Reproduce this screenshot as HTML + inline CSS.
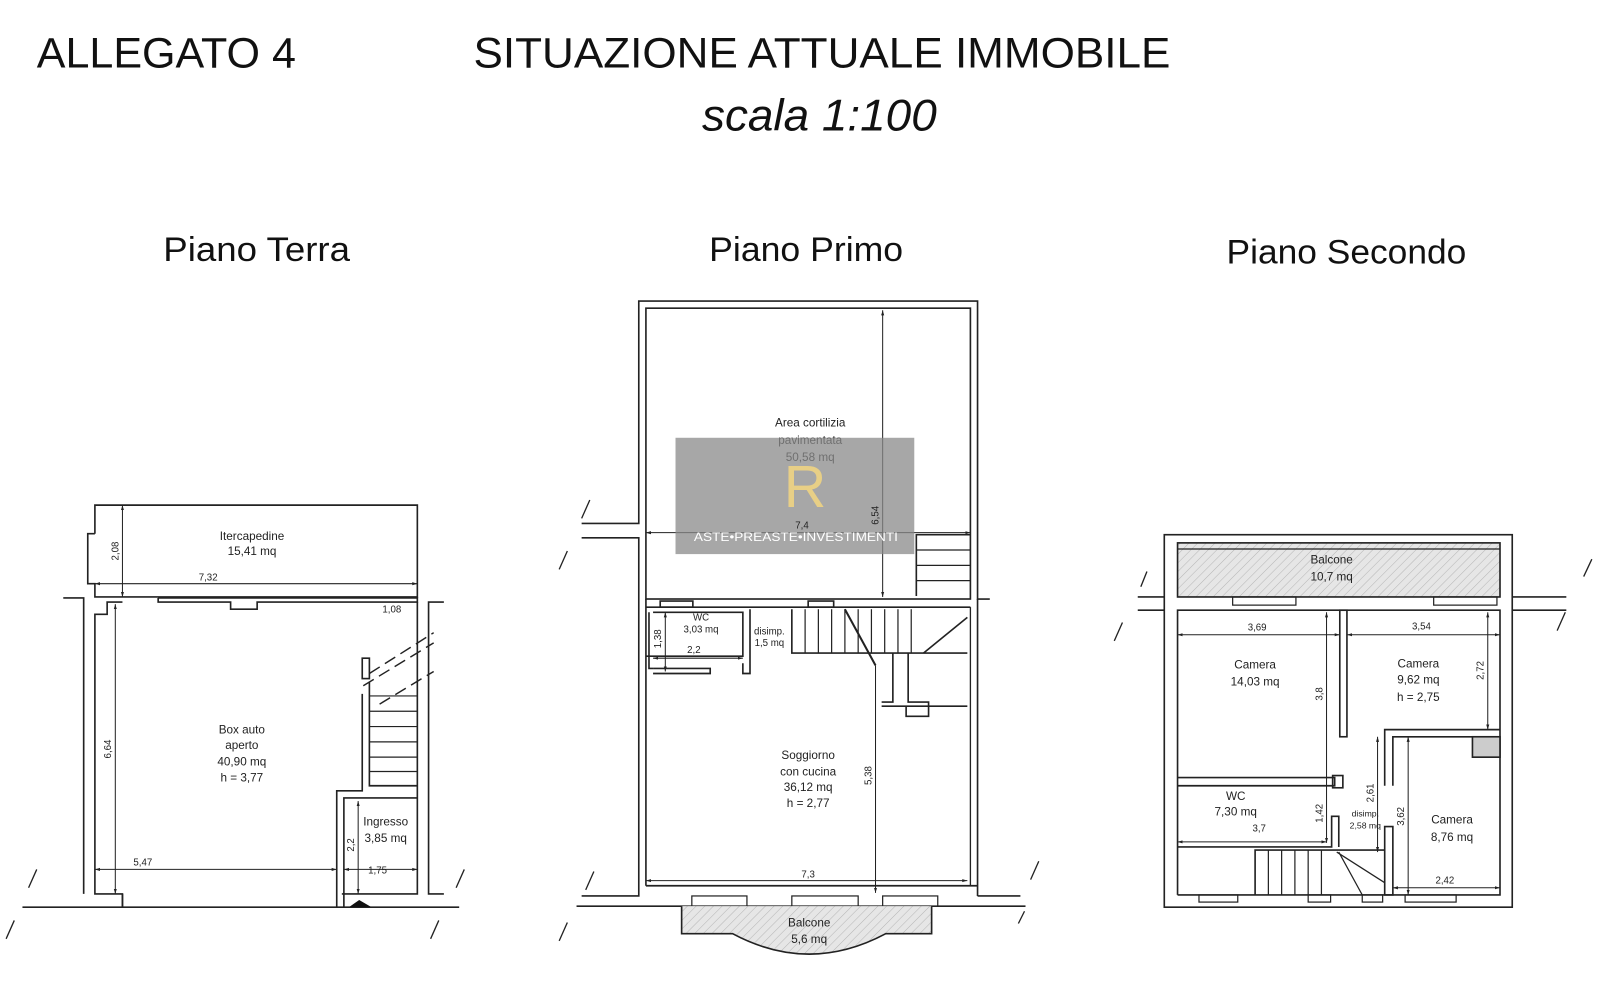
<!DOCTYPE html>
<html><head><meta charset="utf-8"><style>
html,body{margin:0;padding:0;background:#fff;}
svg{display:block;}
text{font-family:"Liberation Sans","DejaVu Sans",sans-serif;fill:#222;}
.s{font-size:11.5px;text-anchor:middle;}
.d{font-size:9.5px;text-anchor:middle;}
</style></head><body>
<svg width="1600" height="998" viewBox="0 0 1568 978" preserveAspectRatio="none" xmlns="http://www.w3.org/2000/svg">
<defs>
<pattern id="h" width="6" height="6" patternUnits="userSpaceOnUse" patternTransform="rotate(45)">
<rect width="6" height="6" fill="#e6e6e6"/><line x1="0" y1="0" x2="0" y2="6" stroke="#b5b5b5" stroke-width="1"/></pattern>
<marker id="a" viewBox="0 0 10 10" refX="10" refY="5" markerWidth="5" markerHeight="5" orient="auto-start-reverse"><path d="M0,2L10,5L0,8z" fill="#222"/></marker>
</defs>
<rect width="1568" height="978" fill="#fff"/>
<text x="36" y="66" font-size="42" textLength="254" lengthAdjust="spacingAndGlyphs" style="fill:#111">ALLEGATO 4</text>
<text x="464" y="66" font-size="42" textLength="683" lengthAdjust="spacingAndGlyphs" style="fill:#111">SITUAZIONE ATTUALE IMMOBILE</text>
<text x="688" y="128" font-size="44" font-style="italic" textLength="230" lengthAdjust="spacingAndGlyphs" style="fill:#111">scala 1:100</text>
<text x="160" y="256" font-size="34" textLength="183" lengthAdjust="spacingAndGlyphs" style="fill:#111">Piano Terra</text>
<text x="695" y="256" font-size="34" textLength="190" lengthAdjust="spacingAndGlyphs" style="fill:#111">Piano Primo</text>
<text x="1202" y="258" font-size="34" textLength="235" lengthAdjust="spacingAndGlyphs" style="fill:#111">Piano Secondo</text>

<g fill="none" stroke="#222" stroke-width="1.6">
<!-- PIANO TERRA -->
<polyline points="93,523 93,495 409,495 409,585 93,585 93,572 86,572 86,523 93,523"/>
<line x1="93" y1="572" x2="409" y2="572" stroke-width="1" marker-start="url(#a)" marker-end="url(#a)"/>
<line x1="120" y1="495" x2="120" y2="585" stroke-width="1" marker-start="url(#a)" marker-end="url(#a)"/>
<polyline points="155,586 409,586 409,590 252,590 252,597 226,597 226,590 155,590 155,586"/>
<polyline points="62,586 82,586 82,876"/>
<polyline points="120,590 105,590 105,602 93,602 93,876 120,876 120,889"/>
<line x1="113" y1="592" x2="113" y2="876" stroke-width="1" marker-start="url(#a)" marker-end="url(#a)"/>
<line x1="93" y1="852" x2="330" y2="852" stroke-width="1" marker-start="url(#a)" marker-end="url(#a)"/>
<polyline points="409,590 409,876 335,876"/>
<polyline points="435,590 420,590 420,876 435,876"/>
<polyline points="362,668 362,770 409,770"/>
<g stroke-width="1.2"><line x1="362" y1="682" x2="409" y2="682"/><line x1="362" y1="697" x2="409" y2="697"/><line x1="362" y1="712" x2="409" y2="712"/><line x1="362" y1="727" x2="409" y2="727"/><line x1="362" y1="742" x2="409" y2="742"/><line x1="362" y1="756" x2="409" y2="756"/></g>
<polyline points="355,680 355,775 330,775 330,889"/>
<polyline points="337,889 337,782 409,782"/>
<rect x="355" y="645" width="7" height="20"/>
<g stroke-dasharray="12,6" stroke-width="1.4"><line x1="356" y1="672" x2="425" y2="630"/><line x1="362" y1="660" x2="425" y2="620"/><line x1="372" y1="690" x2="425" y2="658"/></g>
<line x1="351" y1="785" x2="351" y2="876" stroke-width="1" marker-start="url(#a)" marker-end="url(#a)"/>
<line x1="337" y1="852" x2="409" y2="852" stroke-width="1" marker-start="url(#a)" marker-end="url(#a)"/>
<line x1="22" y1="889" x2="450" y2="889"/>
<line x1="120" y1="876" x2="120" y2="889"/>
<g stroke-width="1.3"><line x1="28" y1="870" x2="36" y2="852"/><line x1="6" y1="920" x2="14" y2="902"/><line x1="447" y1="870" x2="455" y2="852"/><line x1="422" y1="920" x2="430" y2="902"/></g>

<!-- PIANO PRIMO -->
<polyline points="570,513 626,513 626,295 958,295 958,587 970,587"/>
<polyline points="570,527 626,527 626,878 570,878"/>
<rect x="633" y="302" width="318" height="285"/>
<line x1="633" y1="595" x2="951" y2="595"/>
<line x1="633" y1="587" x2="633" y2="868"/>
<line x1="951" y1="595" x2="951" y2="868" stroke-width="1.3"/>
<line x1="958" y1="587" x2="958" y2="878"/>
<line x1="958" y1="878" x2="1000" y2="878"/>
<line x1="633" y1="522" x2="951" y2="522" stroke-width="1" marker-start="url(#a)" marker-end="url(#a)"/>
<line x1="865" y1="304" x2="865" y2="585" stroke-width="1" marker-start="url(#a)" marker-end="url(#a)"/>
<polyline points="898,584 898,524 951,524"/>
<g stroke-width="1.2"><line x1="898" y1="539" x2="951" y2="539"/><line x1="898" y1="554" x2="951" y2="554"/><line x1="898" y1="569" x2="951" y2="569"/></g>
<rect x="647" y="589" width="32" height="6"/><rect x="792" y="589" width="25" height="6"/>
<polyline points="636,600 636,655 640,655"/>
<polyline points="640,600 728,600 728,643 633,643"/>
<polyline points="640,660 696,660 696,655 640,655"/>
<line x1="652" y1="600" x2="652" y2="658" stroke-width="1" marker-start="url(#a)" marker-end="url(#a)"/>
<line x1="640" y1="645" x2="728" y2="645" stroke-width="1" marker-start="url(#a)" marker-end="url(#a)"/>
<polyline points="735,597 735,660 728,660 728,650"/>
<polyline points="776,597 776,640 948,640"/>
<g stroke-width="1.2"><line x1="789" y1="597" x2="789" y2="640"/><line x1="802" y1="597" x2="802" y2="640"/><line x1="815" y1="597" x2="815" y2="640"/><line x1="828" y1="597" x2="828" y2="640"/><line x1="841" y1="597" x2="841" y2="640"/><line x1="854" y1="597" x2="854" y2="640"/><line x1="867" y1="597" x2="867" y2="640"/><line x1="880" y1="597" x2="880" y2="640"/><line x1="893" y1="597" x2="893" y2="640"/></g>
<line x1="828" y1="597" x2="858" y2="652" stroke-width="2"/>
<line x1="905" y1="640" x2="948" y2="605"/>
<polyline points="875,640 875,688 864,688"/>
<polyline points="864,692 948,692"/>
<polyline points="890,640 890,688 910,688 910,702 888,702 888,692"/>
<line x1="858" y1="652" x2="858" y2="875" stroke-width="1" marker-end="url(#a)"/>
<line x1="633" y1="863" x2="948" y2="863" stroke-width="1" marker-start="url(#a)" marker-end="url(#a)"/>
<line x1="633" y1="868" x2="958" y2="868"/>
<line x1="565" y1="888" x2="1005" y2="888"/>
<rect x="678" y="878" width="54" height="10" stroke-width="1.2"/><rect x="776" y="878" width="65" height="10" stroke-width="1.2"/><rect x="865" y="878" width="54" height="10" stroke-width="1.2"/>
<path d="M668,888 L668,915 L718,915 Q793,955 868,915 L913,915 L913,888" fill="url(#h)"/>
<g stroke-width="1.3"><line x1="570" y1="508" x2="578" y2="490"/><line x1="548" y1="558" x2="556" y2="540"/><line x1="574" y1="872" x2="582" y2="854"/><line x1="548" y1="922" x2="556" y2="904"/><line x1="1010" y1="862" x2="1018" y2="844"/><line x1="998" y1="905" x2="1004" y2="893"/></g>

<!-- PIANO SECONDO -->
<rect x="1141" y="524" width="341" height="365"/>
<rect x="1154" y="532" width="316" height="53" fill="url(#h)"/>
<line x1="1154" y1="538" x2="1470" y2="538" stroke-width="1.2"/>
<line x1="1115" y1="585" x2="1141" y2="585"/><line x1="1115" y1="598" x2="1141" y2="598"/>
<line x1="1482" y1="585" x2="1535" y2="585"/><line x1="1482" y1="598" x2="1535" y2="598"/>
<polyline points="1154,877 1154,598 1470,598 1470,877 1154,877"/>
<rect x="1208" y="585" width="62" height="8" stroke-width="1.2"/><rect x="1405" y="585" width="62" height="8" stroke-width="1.2"/>
<rect x="1313" y="598" width="7" height="124"/>
<line x1="1300" y1="600" x2="1300" y2="826" stroke-width="1" marker-start="url(#a)" marker-end="url(#a)"/>
<line x1="1154" y1="622" x2="1313" y2="622" stroke-width="1" marker-start="url(#a)" marker-end="url(#a)"/>
<line x1="1320" y1="622" x2="1470" y2="622" stroke-width="1" marker-start="url(#a)" marker-end="url(#a)"/>
<line x1="1458" y1="600" x2="1458" y2="715" stroke-width="1" marker-start="url(#a)" marker-end="url(#a)"/>
<polyline points="1357,770 1357,715 1470,715"/>
<polyline points="1365,770 1365,722 1470,722"/>
<rect x="1443" y="722" width="27" height="20" fill="#ccc"/>
<polyline points="1154,762 1308,762 1308,770 1154,770"/>
<rect x="1306" y="760" width="10" height="12"/>
<line x1="1154" y1="825" x2="1300" y2="825" stroke-width="1" marker-start="url(#a)" marker-end="url(#a)"/>
<polyline points="1154,830 1305,830 1305,800 1312,800 1312,830"/>
<rect x="1357" y="810" width="8" height="67"/>
<line x1="1350" y1="722" x2="1350" y2="835" stroke-width="1" marker-start="url(#a)" marker-end="url(#a)"/>
<line x1="1380" y1="722" x2="1380" y2="877" stroke-width="1" marker-start="url(#a)" marker-end="url(#a)"/>
<line x1="1365" y1="870" x2="1470" y2="870" stroke-width="1" marker-start="url(#a)" marker-end="url(#a)"/>
<polyline points="1230,877 1230,833 1357,833"/>
<g stroke-width="1.2"><line x1="1243" y1="833" x2="1243" y2="877"/><line x1="1256" y1="833" x2="1256" y2="877"/><line x1="1269" y1="833" x2="1269" y2="877"/><line x1="1282" y1="833" x2="1282" y2="877"/><line x1="1295" y1="833" x2="1295" y2="877"/><line x1="1310" y1="835" x2="1357" y2="865"/><line x1="1312" y1="835" x2="1335" y2="877"/></g>
<rect x="1175" y="877" width="38" height="7" stroke-width="1.2"/><rect x="1282" y="877" width="22" height="7" stroke-width="1.2"/><rect x="1335" y="877" width="20" height="7" stroke-width="1.2"/><rect x="1377" y="877" width="50" height="7" stroke-width="1.2"/>
<g stroke-width="1.3"><line x1="1118" y1="575" x2="1124" y2="560"/><line x1="1092" y1="628" x2="1100" y2="610"/><line x1="1552" y1="565" x2="1560" y2="548"/><line x1="1526" y1="618" x2="1534" y2="600"/></g>
</g>
<polygon points="342,889 352,882 364,889" fill="#111"/>

<!-- labels -->
<text class="s" x="247" y="529">Itercapedine</text><text class="s" x="247" y="544">15,41 mq</text>
<text class="d" x="204" y="569">7,32</text><text class="d" x="384" y="600">1,08</text>
<text class="d" x="116" y="540" transform="rotate(-90 116 540)">2,08</text>
<text class="d" x="109" y="734" transform="rotate(-90 109 734)">6,64</text>
<text class="s" x="237" y="719">Box auto</text><text class="s" x="237" y="734">aperto</text><text class="s" x="237" y="750">40,90 mq</text><text class="s" x="237" y="766">h = 3,77</text>
<text class="s" x="378" y="809">Ingresso</text><text class="s" x="378" y="825">3,85 mq</text>
<text class="d" x="140" y="848">5,47</text><text class="d" x="370" y="856">1,75</text>
<text class="d" x="347" y="828" transform="rotate(-90 347 828)">2,2</text>

<text class="s" x="794" y="418">Area cortilizia</text><text class="s" x="794" y="435">pavimentata</text><text class="s" x="794" y="452">50,58 mq</text>
<text class="d" x="687" y="608">WC</text><text class="d" x="687" y="620">3,03 mq</text>
<text class="d" x="754" y="622">disimp.</text><text class="d" x="754" y="633">1,5 mq</text>
<text class="d" x="680" y="640">2,2</text>
<text class="d" x="648" y="626" transform="rotate(-90 648 626)">1,38</text>
<text class="s" x="792" y="744">Soggiorno</text><text class="s" x="792" y="760">con cucina</text><text class="s" x="792" y="775">36,12 mq</text><text class="s" x="792" y="791">h = 2,77</text>
<text class="d" x="854" y="760" transform="rotate(-90 854 760)">5,38</text>
<text class="d" x="792" y="860">7,3</text>
<text class="s" x="793" y="908">Balcone</text><text class="s" x="793" y="924">5,6 mq</text>

<!-- watermark -->
<rect x="662" y="429" width="234" height="114" fill="#8a8a8a" opacity="0.75"/>
<text x="768" y="497" font-size="58" font-family="Liberation Serif,serif" style="fill:#e8cf86">R</text>
<text x="680" y="530" font-size="12" font-family="Liberation Serif,serif" textLength="200" lengthAdjust="spacingAndGlyphs" style="fill:#fff">ASTE•PREASTE•INVESTIMENTI</text>
<text class="d" x="786" y="518" style="fill:#222">7,4</text>
<text class="d" x="861" y="505" transform="rotate(-90 861 505)">6,54</text>

<text class="s" x="1305" y="552">Balcone</text><text class="s" x="1305" y="569">10,7 mq</text>
<text class="d" x="1232" y="618">3,69</text><text class="d" x="1393" y="617">3,54</text>
<text class="s" x="1230" y="655">Camera</text><text class="s" x="1230" y="672">14,03 mq</text>
<text class="s" x="1390" y="654">Camera</text><text class="s" x="1390" y="670">9,62 mq</text><text class="s" x="1390" y="687">h = 2,75</text>
<text class="d" x="1296" y="680" transform="rotate(-90 1296 680)">3,8</text>
<text class="d" x="1454" y="657" transform="rotate(-90 1454 657)">2,72</text>
<text class="s" x="1211" y="784">WC</text><text class="s" x="1211" y="799">7,30 mq</text>
<text class="d" x="1234" y="815">3,7</text>
<text class="d" x="1296" y="797" transform="rotate(-90 1296 797)">1,42</text>
<text class="d" x="1346" y="777" transform="rotate(-90 1346 777)">2,61</text>
<text class="d" x="1338" y="800" style="font-size:8.5px">disimp.</text><text class="d" x="1338" y="812" style="font-size:8.5px">2,58 mq</text>
<text class="d" x="1376" y="800" transform="rotate(-90 1376 800)">3,62</text>
<text class="s" x="1423" y="807">Camera</text><text class="s" x="1423" y="824">8,76 mq</text>
<text class="d" x="1416" y="866">2,42</text>
</svg>
</body></html>
